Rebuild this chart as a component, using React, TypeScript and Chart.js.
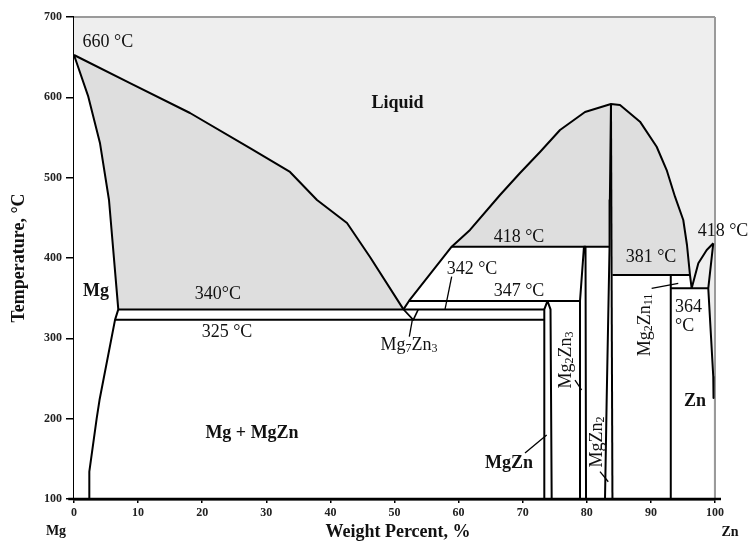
import React, { useEffect, useRef } from 'react';
import { Chart, registerables } from 'chart.js';

Chart.register(...registerables);

type P = [number, number];

// ---- axis ticks ----
const xTickStep = 10;
const yTickStep = 100;

// ---- phase boundaries (weight % Zn, temperature °C) ----
const mgLiquidus: P[] = [[0, 652.7], [8.74, 617.8], [18.1, 580.5], [27.46, 536.9], [33.7, 507.1], [37.91, 472.2], [42.59, 443.6], [46.18, 401.2], [51.4, 336]];
const mgSolidus: P[] = [[0, 652.7], [2.23, 600.8], [4.06, 542.8], [5.46, 472.2], [6.91, 336]];
const mgSolvus: P[] = [[6.91, 336], [6.4, 323], [3.98, 223.2], [3.54, 200.4], [2.39, 134], [2.39, 100]];
const mg2zn3Liquidus: P[] = [[51.4, 336], [52.26, 346.5], [58.92, 414.1]];
const mgzn2LiquidusLeft: P[] = [[58.92, 414.1], [61.78, 434.9], [66.46, 478.4], [69.58, 505.8], [72.7, 532], [75.82, 559.3], [79.72, 581.7], [83.77, 591.7]];
const mgzn2LiquidusRight: P[] = [[83.77, 591.7], [85.18, 590.5], [88.3, 569.7], [90.9, 538.5], [92.46, 509.5], [93.76, 476.3], [95.05, 447.3], [95.63, 416.2], [96.1, 378.8]];
const mg2zn11Liquidus: P[] = [[96.1, 378.8], [96.36, 362.3]];
const znLiquidus: P[] = [[96.36, 362.3], [97.4, 393.4], [98.71, 410], [99.73, 418.3]];
const znSolidus: P[] = [[99.73, 418.3], [98.95, 362.3]];
const znSolvus: P[] = [[98.95, 362.3], [99.73, 252.2], [99.77, 225.7]];
const mgzn2Left: P[] = [[83.77, 591.7], [83.6, 472.2], [83.55, 414.1], [83.1, 223.2], [82.84, 100]];
const mgzn2Right: P[] = [[83.77, 591.7], [84.0, 100]];
const mgznBounds: P[] = [[73.37, 100], [73.37, 336], [73.87, 346.5], [74.34, 336], [74.52, 100]];
const mg2zn3Bounds: P[] = [[78.94, 100], [78.94, 346.5], [79.56, 414.1], [79.8, 414.1], [79.88, 100]];
const mg2zn11Bounds: P[] = [[93.1, 378.8], [93.1, 100]];
const mg7zn3Bounds: P[] = [[51.4, 336], [52.93, 323], [53.71, 336]];

// isotherms: [temperature as drawn, from %, to %]
const isotherms: [number, number, number][] = [
  [336, 6.91, 73.37],
  [323, 6.4, 73.37],
  [346.5, 52.26, 78.94],
  [414.1, 58.92, 83.55],
  [378.8, 84.0, 96.1],
  [362.3, 93.1, 98.95],
];

// leader lines: [x1, y1, x2, y2]
const leaders: [number, number, number, number][] = [
  [52.78, 323, 52.31, 302.2],
  [58.92, 376.7, 57.88, 336],
  [70.36, 157.3, 73.74, 179.7],
  [78.16, 248.1, 79.2, 235.7],
  [82.06, 134, 83.35, 121.5],
  [90.12, 362.3, 94.27, 368.5],
];

// text labels
const labelTexts = ['660 °C', 'Liquid', 'Mg', '340°C', '325 °C', 'Mg + MgZn', 'Mg7Zn3', '342 °C', '347 °C', '418 °C', '381 °C', '364', '°C', '418 °C', 'Mg2Zn3', 'Mg2Zn11', 'MgZn2', 'MgZn', 'Zn'];
const labelX = [5.3, 50.47, 3.43, 22.46, 23.87, 27.77, 52.26, 62.09, 69.42, 69.42, 90.02, 93.76, 93.76, 101.25, 76.75, 89.08, 81.59, 67.86, 96.88];
const labelY = [669, 592.3, 358.9, 355.2, 307.9, 182.2, 291.7, 386.3, 358.9, 426.1, 401.2, 339, 315.3, 433.6, 273, 316.6, 170.9, 144.8, 222];
const labelBold = [false, true, true, false, false, true, false, false, false, false, false, false, false, false, false, false, false, true, true];
const labelChem = [false, false, false, false, false, false, true, false, false, false, false, false, false, false, true, true, true, false, false];
const labelRot = [false, false, false, false, false, false, false, false, false, false, false, false, false, false, true, true, true, false, false];
const labelLeft = [false, false, false, false, false, false, false, false, false, false, false, true, true, false, false, false, false, false, false];

const FONT = "'Liberation Serif', 'DejaVu Serif', serif";
const LIGHT = '#eeeeee';
const DARK = '#dedede';

const pts = (a: P[]) => a.map(([x, y]) => ({ x, y }));

function areaDs(a: P[], color: string, order: number) {
  return {
    data: pts(a),
    fill: 'shape',
    backgroundColor: color,
    borderColor: 'transparent',
    borderWidth: 0,
    pointRadius: 0,
    order,
    clip: 0,
  };
}

function lineDs(a: P[], width = 2, color = '#000', order = 10) {
  return {
    data: pts(a),
    fill: false,
    borderColor: color,
    borderWidth: width,
    borderJoinStyle: 'round',
    borderCapStyle: 'butt',
    pointRadius: 0,
    order,
    clip: 6,
  };
}

function drawLabel(ctx: CanvasRenderingContext2D, i: number, px: number, py: number) {
  const size = 18;
  const subSize = 12;
  const weight = labelBold[i] ? 'bold ' : '';
  const text = labelTexts[i];
  const parts: { s: string; sub: boolean }[] = [];
  if (labelChem[i]) {
    const re = /([A-Za-z]+)(\d*)/g;
    let m: RegExpExecArray | null;
    while ((m = re.exec(text))) {
      parts.push({ s: m[1], sub: false });
      if (m[2]) parts.push({ s: m[2], sub: true });
    }
  } else {
    parts.push({ s: text, sub: false });
  }
  let total = 0;
  const widths = parts.map((p) => {
    ctx.font = `${weight}${p.sub ? subSize : size}px ${FONT}`;
    const w = ctx.measureText(p.s).width;
    total += w;
    return w;
  });
  ctx.save();
  ctx.translate(px, py);
  if (labelRot[i]) ctx.rotate(-Math.PI / 2);
  let cx = labelLeft[i] ? 0 : -total / 2;
  ctx.textAlign = 'left';
  ctx.textBaseline = 'middle';
  parts.forEach((p, k) => {
    ctx.font = `${weight}${p.sub ? subSize : size}px ${FONT}`;
    ctx.fillText(p.s, cx, p.sub ? 4 : 0);
    cx += widths[k];
  });
  ctx.restore();
}

const textPlugin = {
  id: 'phaseText',
  afterDatasetsDraw(chart: any) {
    const { ctx } = chart;
    const xs = chart.scales.x;
    const ys = chart.scales.y;
    ctx.save();
    ctx.fillStyle = '#111';
    for (let i = 0; i < labelTexts.length; i++) {
      drawLabel(ctx, i, xs.getPixelForValue(labelX[i]), ys.getPixelForValue(labelY[i]));
    }
    // axis titles
    ctx.textAlign = 'center';
    ctx.textBaseline = 'middle';
    ctx.font = `bold 18px ${FONT}`;
    ctx.fillText('Weight Percent, %', 398, 532);
    ctx.save();
    ctx.translate(19, 258);
    ctx.rotate(-Math.PI / 2);
    ctx.fillText('Temperature, °C', 0, 0);
    ctx.restore();
    ctx.font = `bold 14px ${FONT}`;
    ctx.fillText('Mg', 56, 531);
    ctx.fillText('Zn', 730, 532);
    ctx.restore();
  },
};

export default function App() {
  const ref = useRef<HTMLCanvasElement>(null);
  useEffect(() => {
    const rev = (a: P[]) => a.slice().reverse();
    const whitePoly: P[] = [
      [0, 100],
      ...mgSolidus,
      ...mg2zn3Liquidus,
      [83.55, 414.1],
      [83.77, 591.7],
      [84.0, 378.8],
      ...mg2zn11Liquidus,
      ...znSolvus,
      [99.77, 100],
    ];
    const darkA: P[] = [...mgLiquidus, ...rev(mgSolidus)];
    const darkB: P[] = [...mgzn2LiquidusLeft, [83.55, 414.1]];
    const darkC: P[] = [...mgzn2LiquidusRight, [84.0, 378.8]];
    const bg: P[] = [[0, 100], [0, 700], [100, 700], [100, 100]];

    const datasets: any[] = [
      areaDs(bg, LIGHT, 100),
      areaDs(whitePoly, '#ffffff', 90),
      areaDs(darkA, DARK, 80),
      areaDs(darkB, DARK, 80),
      areaDs(darkC, DARK, 80),
      lineDs([[0, 700], [100, 700]], 2, '#9a9a9a', 20),
      lineDs([[100, 100], [100, 700]], 2, '#9a9a9a', 20),
      lineDs(mgLiquidus),
      lineDs([...mg2zn3Liquidus, ...mgzn2LiquidusLeft.slice(1), ...mgzn2LiquidusRight.slice(1), ...mg2zn11Liquidus.slice(1)]),
      lineDs([...mgSolidus, ...mgSolvus.slice(1)]),
      lineDs(znLiquidus),
      lineDs([...znSolidus, ...znSolvus.slice(1)]),
      lineDs(mgzn2Left),
      lineDs(mgzn2Right),
      lineDs(mgznBounds),
      lineDs(mg2zn3Bounds),
      lineDs(mg2zn11Bounds),
      lineDs(mg7zn3Bounds, 1.6),
      ...isotherms.map(([t, a, b]) => lineDs([[a, t], [b, t]])),
      ...leaders.map(([a, b, c, d]) => lineDs([[a, b], [c, d]], 1.3)),
      lineDs([[-0.9, 100], [101.1, 100]], 2.5, '#000', 1),
    ];

    const tickFont = { family: FONT, size: 12, weight: 'bold' };
    const chart = new Chart(ref.current as HTMLCanvasElement, {
      type: 'line',
      data: { datasets },
      options: {
        animation: false,
        responsive: false,
        devicePixelRatio: 1,
        events: [],
        layout: { padding: { top: 17, right: 35, left: 0, bottom: 0 } },
        plugins: { legend: { display: false }, tooltip: { enabled: false } },
        scales: {
          x: {
            type: 'linear',
            min: 0,
            max: 100,
            ticks: { stepSize: xTickStep, font: tickFont, color: '#222', padding: 3, maxRotation: 0, autoSkip: false },
            grid: { drawOnChartArea: false, tickLength: 4, color: '#000', lineWidth: 1.5 },
            border: { color: '#000', width: 2.5 },
            afterFit: (s: any) => { s.height = 44; },
          },
          y: {
            type: 'linear',
            min: 100,
            max: 700,
            ticks: { stepSize: yTickStep, font: tickFont, color: '#222', padding: 4 },
            grid: { drawOnChartArea: false, tickLength: 8, color: '#000', lineWidth: 1.5 },
            border: { color: '#000', width: 2.5 },
            afterFit: (s: any) => { s.width = 74; },
          },
        },
      } as any,
      plugins: [textPlugin],
    });
    return () => chart.destroy();
  }, []);
  return (
    <div style={{ position: 'fixed', left: 0, top: 0, width: 750, height: 543, background: '#fff' }}>
      <canvas ref={ref} width={750} height={543} style={{ display: 'block', width: 750, height: 543 }} />
    </div>
  );
}
